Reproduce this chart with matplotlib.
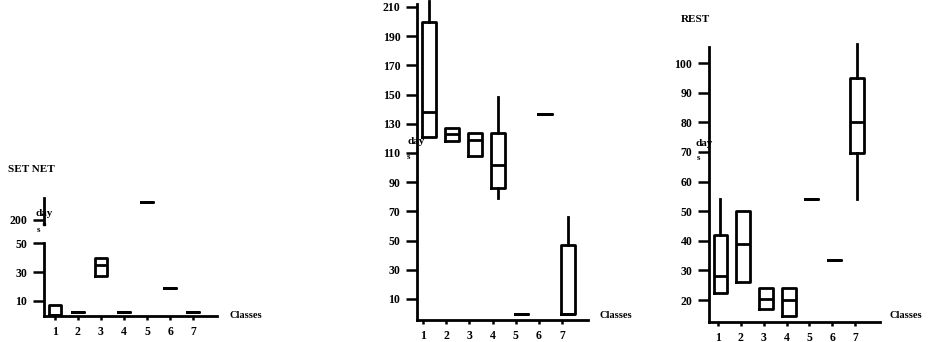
import numpy as np
import matplotlib
matplotlib.use("Agg")
import matplotlib.pyplot as plt
from matplotlib.scale import FuncScale

# ---------------- data ----------------
classes = [1, 2, 3, 4, 5, 6, 7]

# SET NET (days)
setnet_lo  = [0, 2, 27, 2, 212, 19, 2]
setnet_q1  = [0, 2, 27, 2, 212, 19, 2]
setnet_med = [0, 2, 35, 2, 212, 19, 2]
setnet_q3  = [7, 2, 40, 2, 212, 19, 2]
setnet_hi  = [7, 2, 40, 2, 212, 19, 2]
setnet_ticks = [10, 30, 50, 200]

# middle panel (days)
mid_lo  = [121, 118, 108, 79, 0, 137, 0]
mid_q1  = [121, 118, 108, 86, 0, 137, 0]
mid_med = [138, 123, 119, 102, 0, 137, 0]
mid_q3  = [200, 127, 124, 124, 0, 137, 47]
mid_hi  = [214, 127, 124, 148, 0, 137, 66]
mid_ticks = [10, 30, 50, 70, 90, 110, 130, 150, 170, 190, 210]

# REST (days)
rest_lo  = [22.5, 26, 17, 14.6, 54, 33.5, 54]
rest_q1  = [22.5, 26, 17, 14.6, 54, 33.5, 69.7]
rest_med = [28, 39, 20.5, 20, 54, 33.5, 80]
rest_q3  = [42, 50, 24, 24, 54, 33.5, 95]
rest_hi  = [54, 50, 24, 24, 54, 33.5, 106.5]
rest_ticks = [20, 30, 40, 50, 60, 70, 80, 90, 100]

# ---------------- style ----------------
W, H = 931, 342
FONT = "Liberation Serif"
plt.rcParams["font.family"] = [FONT, "DejaVu Serif"]

fig = plt.figure(figsize=(W / 100, H / 100), dpi=100)


def ax_at(x0, x1, ytop, ybot):
    return fig.add_axes([x0 / W, 1 - ybot / H, (x1 - x0) / W, (ybot - ytop) / H])


def ftext(x, y, s, size=8, **kw):
    fig.text(x / W, 1 - y / H, s, fontsize=size, fontweight="bold",
             family=[FONT, "DejaVu Serif"], va="center", **kw)


def stats(lo, q1, med, q3, hi):
    return [dict(whislo=a, q1=b, med=c, q3=d, whishi=e, fliers=[])
            for a, b, c, d, e in zip(lo, q1, med, q3, hi)]


def style(ax):
    for s in ("top", "right"):
        ax.spines[s].set_visible(False)
    for s in ("left", "bottom"):
        ax.spines[s].set_linewidth(2.0)
    ax.tick_params(axis="y", direction="out", length=8, width=1.8, pad=4,
                   labelsize=8.5)
    ax.tick_params(axis="x", direction="out", length=3, width=1.8, pad=4,
                   labelsize=8.5)
    for lab in ax.get_xticklabels() + ax.get_yticklabels():
        lab.set_fontweight("bold")
    ax.patch.set_visible(False)


def boxes(ax, st, width, shift=0.0):
    lp = dict(color="black", linewidth=2.0)
    art = ax.bxp(st, positions=[c + shift for c in classes], widths=width,
                 showcaps=False, showfliers=False, boxprops=lp,
                 medianprops=lp, whiskerprops=lp, manage_ticks=False)
    for k in art.values():
        for a in k:
            a.set_clip_on(False)


# ---------- left panel: SET NET, broken axis ----------
K = 0.111


def fwd(v):
    v = np.asarray(v, dtype=float)
    return np.where(v <= 50, v,
                    np.where(v <= 200, 50 + (v - 50) * K, 50 + 150 * K + (v - 200)))


def inv(t):
    t = np.asarray(t, dtype=float)
    return np.where(t <= 50, t,
                    np.where(t <= 50 + 150 * K, 50 + (t - 50) / K,
                             200 + (t - 50 - 150 * K)))


ax1 = ax_at(44, 217, 198, 316)
ax1.set_yscale(FuncScale(ax1, (fwd, inv)))
ax1.set_xlim(0.53, 8.03)
ax1.set_ylim(-0.5, 215)
boxes(ax1, stats(setnet_lo, setnet_q1, setnet_med, setnet_q3, setnet_hi), 0.5)
ax1.set_yticks(setnet_ticks)
ax1.set_yticklabels([str(t) for t in setnet_ticks])
ax1.set_xticks(classes)
ax1.set_xticklabels([str(c) for c in classes])
ax1.spines["left"].set_bounds(-0.5, 52)
style(ax1)
ax1.plot([0.53, 0.53], [181, 215], color="black", lw=2.0, clip_on=False)
ax1.plot([0.53], [170], marker="s", ms=1.5, color="black", clip_on=False)

# ---------- middle panel ----------
ax2 = ax_at(417, 588, 4, 320)
ax2.set_xlim(0.74, 8.12)
ax2.set_ylim(-4.4, 212)
boxes(ax2, stats(mid_lo, mid_q1, mid_med, mid_q3, mid_hi), 0.6, shift=0.25)
ax2.set_yticks(mid_ticks)
ax2.set_yticklabels([str(t) for t in mid_ticks])
ax2.set_xticks(classes)
ax2.set_xticklabels([str(c) for c in classes])
style(ax2)

# ---------- right panel: REST ----------
ax3 = ax_at(709, 880, 47, 322)
ax3.set_xlim(0.6, 8.1)
ax3.set_ylim(12.6, 105.4)
boxes(ax3, stats(rest_lo, rest_q1, rest_med, rest_q3, rest_hi), 0.6, shift=0.1)
ax3.set_yticks(rest_ticks)
ax3.set_yticklabels([str(t) for t in rest_ticks])
ax3.set_xticks(classes)
ax3.set_xticklabels([str(c) for c in classes])
style(ax3)

# ---------- texts ----------
ftext(8, 170, "SET NET", 8)
ftext(681, 20, "REST", 8)
for x in (230, 600, 890):
    ftext(x, 315, "Classes", 7.5)
for (x, y) in ((36, 213), (407, 142), (695, 144)):
    ftext(x, y, "day", 8)
for (x, y) in ((37, 230), (407, 157), (697, 158)):
    ftext(x, y, "s", 6.5)

fig.savefig("out.png", dpi=100)
